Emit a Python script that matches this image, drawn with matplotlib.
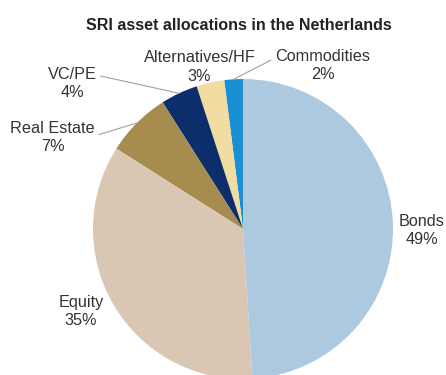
import numpy as np
from matplotlib import pyplot as plt

plt.rcParams['font.family'] = ['Liberation Sans', 'DejaVu Sans']

# allocation shares, in pie order (counter-clockwise from 12 o'clock)
categories = ['Commodities', 'Alternatives/HF', 'VC/PE', 'Real Estate', 'Equity', 'Bonds']
shares = [2, 3, 4, 7, 35, 49]
colors = ['#1b8fd4', '#f1dca2', '#0c2e6a', '#a68c4e', '#d9c7b4', '#adc9e0']

# label anchor (data units, pie radius = 1) and where the leader line leaves the text
label_pos = [(0.53, 1.09), (-0.29, 1.08), (-1.14, 0.97), (-1.27, 0.61), (-1.08, -0.55), (1.19, -0.01)]
leader_rel = [(0.0, 0.72), None, (1.0, 0.75), (1.0, 0.55), None, None]

fig = plt.figure(figsize=(4.46, 3.75), dpi=100)
ax = fig.add_axes([0, 0, 1, 1])

wedges, _ = ax.pie(shares, colors=colors, startangle=90, counterclock=True,
                   radius=1.0, wedgeprops=dict(linewidth=0))

for w, name, val, pos, rel in zip(wedges, categories, shares, label_pos, leader_rel):
    mid = np.deg2rad((w.theta1 + w.theta2) / 2)
    txt = f'{name}\n{val}%'
    if rel is None:
        ax.text(pos[0], pos[1], txt, ha='center', va='center', fontsize=11.7,
                color='#333333', linespacing=1.3)
    else:
        ax.annotate(txt, xy=(np.cos(mid), np.sin(mid)), xytext=pos,
                    ha='center', va='center', fontsize=11.7, color='#333333',
                    linespacing=1.3,
                    arrowprops=dict(arrowstyle='-', color='#a0a0a0', lw=0.8,
                                    relpos=rel, shrinkA=1, shrinkB=0))

ax.set_xlim(-243 / 150, (446 - 243) / 150)
ax.set_ylim((229 - 375) / 150, 229 / 150)
ax.set_aspect('auto')
ax.axis('off')

fig.text(239 / 446, 1 - 25 / 375, 'SRI asset allocations in the Netherlands',
         ha='center', va='center', fontsize=11.5, fontweight='bold', color='#222222')

fig.savefig('out.png', dpi=100)
